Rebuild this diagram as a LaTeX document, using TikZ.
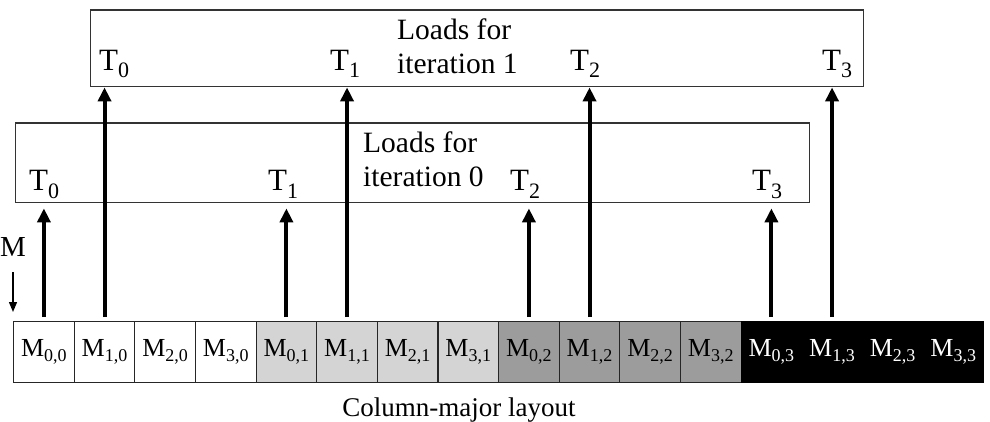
\documentclass[tikz,border=0pt]{standalone}
\usepackage{fontspec}
\setmainfont{Liberation Serif}
\usetikzlibrary{arrows.meta}
\newcommand\tsubT[1]{\raisebox{-7pt}{\fontsize{22}{22}\selectfont #1}}
\newcommand\tsubM[1]{\raisebox{-5pt}{\fontsize{18}{18}\selectfont #1}}
\definecolor{lgray}{HTML}{D4D4D4}
\definecolor{mgray}{HTML}{9C9C9C}
\definecolor{boxline}{HTML}{333333}
\begin{document}
\begin{tikzpicture}[x=1pt,y=-1pt,
  cell/.style={draw=black!85, line width=1.2pt, minimum width=60.625pt, minimum height=61pt, inner sep=0pt, anchor=north west, font=\fontsize{26}{26}\selectfont},
  loadbox/.style={draw=boxline, line width=1.4pt, inner sep=0pt, anchor=north west},
  tlab/.style={anchor=base west, inner sep=0pt, font=\fontsize{31}{31}\selectfont},
  txt/.style={align=left, anchor=base west, inner sep=0pt, font=\fontsize{29.5}{34}\selectfont},
  arr/.style={line width=4pt, -{Triangle[width=13pt,length=14pt]}}
]
\useasboundingbox (0,0) rectangle (990,422);
% load boxes
\node[loadbox, minimum width=773pt, minimum height=76.5pt] (b1) at (90,9.5) {};
\node[loadbox, minimum width=794pt, minimum height=79.5pt] (b0) at (15,122.5) {};
% box texts
\node[txt] (l1a) at (397,40) {Loads for};
\node[txt] (l1b) at (397,74) {iteration 1};
\node[txt] (l0a) at (363,153) {Loads for};
\node[txt] (l0b) at (363,187) {iteration 0};
\node[tlab] (t10) at (99,71) {T\tsubT{0}};
\node[tlab] (t11) at (330,71) {T\tsubT{1}};
\node[tlab] (t12) at (570,71) {T\tsubT{2}};
\node[tlab] (t13) at (822,71) {T\tsubT{3}};
\node[tlab] (t00) at (29,191) {T\tsubT{0}};
\node[tlab] (t01) at (268,191) {T\tsubT{1}};
\node[tlab] (t02) at (510,191) {T\tsubT{2}};
\node[tlab] (t03) at (752,191) {T\tsubT{3}};
% memory cells
\foreach \i/\r/\c/\col/\tc/\dc in {0/0/0/white/black/black!85,1/1/0/white/black/black!85,2/2/0/white/black/black!85,3/3/0/white/black/black!85,
  4/0/1/lgray/black/black!85,5/1/1/lgray/black/black!85,6/2/1/lgray/black/black!85,7/3/1/lgray/black/black!85,
  8/0/2/mgray/black/black!85,9/1/2/mgray/black/black!85,10/2/2/mgray/black/black!85,11/3/2/mgray/black/black!85,
  12/0/3/black/white/black,13/1/3/black/white/black,14/2/3/black/white/black,15/3/3/black/white/black}{
  \node[cell, fill=\col, draw=\dc, text=\tc] (c\i) at ({13+\i*60.625},321) {M\tsubM{\r,\c}};
}
% arrows for iteration 0
\foreach \i in {0,4,8,12}{
  \draw[arr, shorten <=4pt, shorten >=5pt] (c\i.north) -- (c\i.north |- b0.south);
}
% arrows for iteration 1
\foreach \i in {1,5,9,13}{
  \draw[arr, shorten <=4pt] (c\i.north) -- (c\i.north |- b1.south);
}
% M direction label
\node[anchor=base, inner sep=0pt, font=\fontsize{29}{29}\selectfont] (mlab) at (13,256) {M};
\coordinate (mend) at (13,312);
\draw[line width=1.3pt, -{Triangle[width=8pt,length=10pt]}] (13,272) -- (mend);
% caption
\node[anchor=base, inner sep=0pt, font=\fontsize{27}{27}\selectfont] (cap) at (459,416) {Column-major layout};
\end{tikzpicture}
\end{document}
